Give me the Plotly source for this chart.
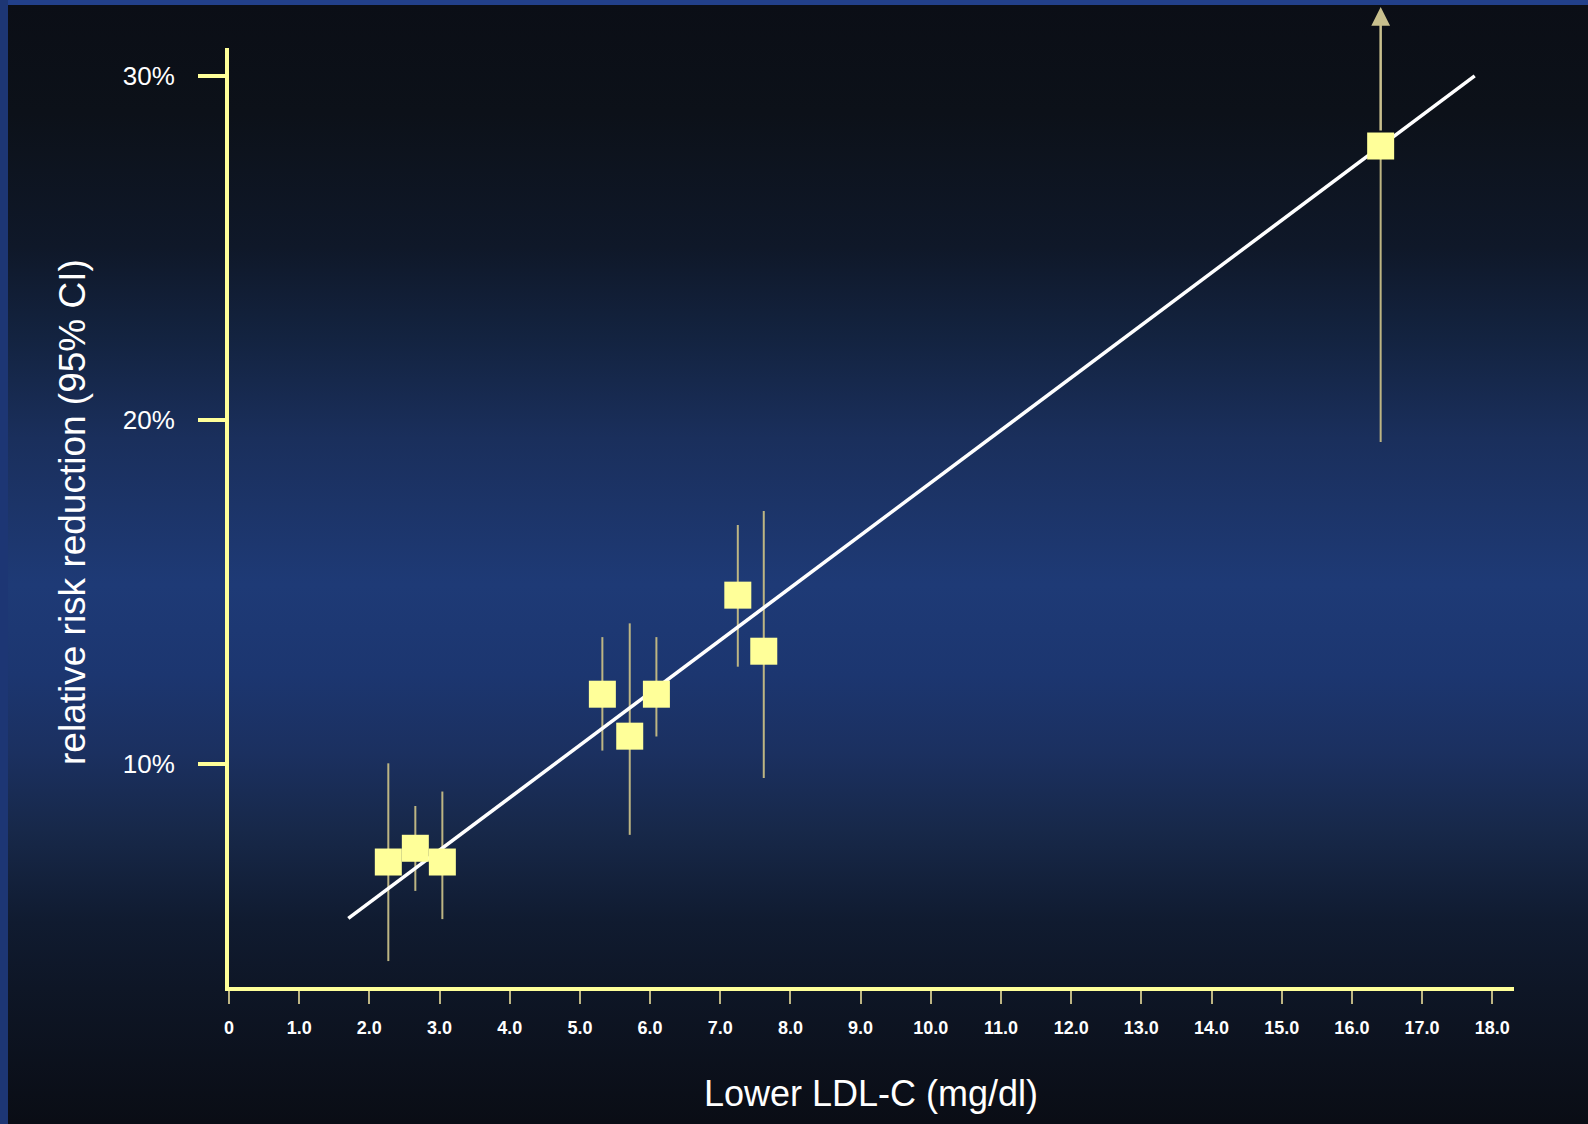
import base64
import plotly.graph_objects as go

# ---- data ----
ldl_reduction = [2.27, 2.655, 3.04, 5.32, 5.71, 6.09, 7.25, 7.62, 16.41]
rrr = [7.14, 7.54, 7.14, 12.02, 10.80, 12.02, 14.90, 13.27, 27.96]
ci_low = [4.26, 6.30, 5.48, 10.38, 7.93, 10.79, 12.82, 9.58, 19.35]
ci_high = [10.01, 8.77, 9.19, 13.68, 14.08, 13.68, 16.94, 17.35, None]  # last one open-ended (arrow)
open_ci_arrow_tip = 32.0

fit_x = [1.70, 17.75]
fit_y = [5.50, 30.00]

x_tick_vals = list(range(0, 19))
x_tick_text = ["0"] + [f"{v}.0" for v in range(1, 19)]
y_tick_vals = [10, 20, 30]
y_tick_text = ["10%", "20%", "30%"]

# ---- layout geometry ----
W, H = 1588, 1124
ML, MR, MT, MB = 229, 74, 48, 137
PW, PH = W - ML - MR, H - MT - MB

FONT = "Liberation Sans, Arial, sans-serif"
YELLOW = "#ffff99"
KHAKI = "#bdb583"

# background gradient as an SVG image
svg = f'''<svg xmlns="http://www.w3.org/2000/svg" width="{W}" height="{H}" viewBox="0 0 {W} {H}" preserveAspectRatio="none">
<defs><linearGradient id="g" x1="0" y1="0" x2="0" y2="1">
<stop offset="0" stop-color="#0b0e16"/>
<stop offset="0.10" stop-color="#0c1119"/>
<stop offset="0.22" stop-color="#0f1829"/>
<stop offset="0.30" stop-color="#132340"/>
<stop offset="0.39" stop-color="#1a2f5c"/>
<stop offset="0.45" stop-color="#1c3468"/>
<stop offset="0.52" stop-color="#1e3a76"/>
<stop offset="0.60" stop-color="#1c3670"/>
<stop offset="0.67" stop-color="#1b3060"/>
<stop offset="0.74" stop-color="#172849"/>
<stop offset="0.82" stop-color="#101b30"/>
<stop offset="0.88" stop-color="#0e1626"/>
<stop offset="1" stop-color="#0a0d15"/>
</linearGradient></defs>
<rect x="0" y="0" width="{W}" height="{H}" fill="url(#g)"/>
<rect x="0" y="0" width="{W}" height="5" fill="#22408a"/>
<rect x="0" y="0" width="8" height="{H}" fill="#1d3674"/>
</svg>'''
svg_uri = "data:image/svg+xml;base64," + base64.b64encode(svg.encode()).decode()

err_plus = [(h - m) if h is not None else 0 for h, m in zip(ci_high, rrr)]
err_minus = [m - l for m, l in zip(rrr, ci_low)]

fig = go.Figure()

# confidence intervals
fig.add_trace(go.Scatter(
    x=ldl_reduction, y=rrr, mode="markers",
    marker=dict(size=1, opacity=0),
    error_y=dict(type="data", symmetric=False, array=err_plus, arrayminus=err_minus,
                 color=KHAKI, thickness=2, width=0),
    hoverinfo="skip", showlegend=False,
))
# regression line
fig.add_trace(go.Scatter(
    x=fit_x, y=fit_y, mode="lines",
    line=dict(color="white", width=3.5),
    showlegend=False,
))
# point estimates
fig.add_trace(go.Scatter(
    x=ldl_reduction, y=rrr, mode="markers",
    marker=dict(symbol="square", size=27, color=YELLOW, line=dict(width=0)),
    showlegend=False,
))

# open-ended upper CI arrow for the last trial
for xv, yv, hi in zip(ldl_reduction, rrr, ci_high):
    if hi is None:
        fig.add_annotation(
            x=xv, y=open_ci_arrow_tip, ax=xv, ay=yv, xref="x", yref="y",
            axref="x", ayref="y", text="", showarrow=True,
            arrowhead=2, arrowsize=1.5, arrowwidth=2.5, arrowcolor="#c9c08e",
            startstandoff=14,
        )

fig.add_annotation(
    text="Lower LDL-C (mg/dl)", xref="paper", yref="paper",
    x=(870.5 - ML) / PW, y=-(1093 - (H - MB)) / PH,
    xanchor="center", yanchor="middle", showarrow=False,
    font=dict(family=FONT, size=36, color="white"),
)
fig.add_annotation(
    text="relative risk reduction (95% CI)", xref="paper", yref="paper",
    x=(72 - ML) / PW, y=((H - MB) - 512) / PH,
    xanchor="center", yanchor="middle", textangle=-90, showarrow=False,
    font=dict(family=FONT, size=37, color="white"),
)

fig.update_layout(
    width=W, height=H,
    margin=dict(l=ML, r=MR, t=MT, b=MB, pad=0),
    paper_bgcolor="#0b0e16",
    plot_bgcolor="rgba(0,0,0,0)",
    images=[dict(source=svg_uri, xref="paper", yref="paper",
                 x=-ML / PW, y=1 + MT / PH, sizex=W / PW, sizey=H / PH,
                 xanchor="left", yanchor="top", sizing="stretch", layer="below")],
    xaxis=dict(
        range=[0, 18.31], showgrid=False, zeroline=False,
        showline=True, linecolor=YELLOW, linewidth=4,
        tickvals=x_tick_vals, ticktext=x_tick_text,
        ticks="outside", ticklen=13, tickwidth=2, tickcolor=KHAKI,
        tickfont=dict(family=FONT, size=18, color="white", weight="bold"),
        ticklabelstandoff=8,
    ),
    yaxis=dict(
        range=[3.506, 30.81], showgrid=False, zeroline=False,
        showline=True, linecolor=YELLOW, linewidth=4,
        tickvals=y_tick_vals, ticktext=y_tick_text,
        ticks="outside", ticklen=27, tickwidth=4, tickcolor=YELLOW,
        tickfont=dict(family=FONT, size=26, color="white"),
        ticklabelstandoff=18,
    ),
)

fig.write_html(
    "out.html",
    config={"displayModeBar": False},
    post_script="document.body.style.margin='0';document.body.style.overflow='hidden';",
)
